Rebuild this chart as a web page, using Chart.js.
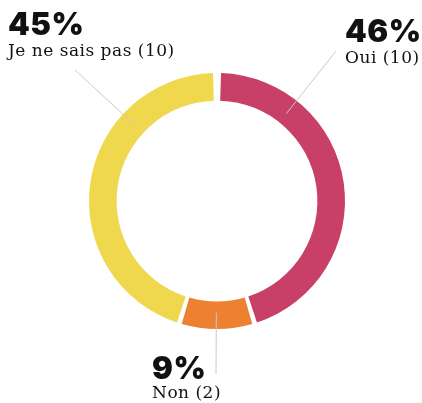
<!doctype html>
<html><head><meta charset="utf-8">
<script src="https://cdn.jsdelivr.net/npm/chart.js"></script>
<style>
  html, body { margin: 0; padding: 0; background: #fff; }
  #wrap { width: 422px; height: 403px; position: relative; }
</style>
</head><body>
<div id="wrap"><canvas id="c"></canvas></div>
<script>
// data
const categories = ['Oui', 'Non', 'Je ne sais pas'];
const counts = [10, 2, 10];
const percents = ['46%', '9%', '45%'];
const colors = ['#c83f67', '#ee8032', '#efd84d'];

// where each label sits (text left x, pct baseline, label baseline, line start)
const labelSpots = [
  { x: 345, pctY: 42, txtY: 63, lx: 336, ly: 51 },
  { x: 152, pctY: 379, txtY: 398, lx: 216, ly: 374 },
  { x: 8, pctY: 35, txtY: 56, lx: 75, ly: 70 }
];

const calloutPlugin = {
  id: 'callouts',
  afterDatasetsDraw(chart) {
    const ctx = chart.ctx;
    const meta = chart.getDatasetMeta(0);
    ctx.save();
    meta.data.forEach((arc, i) => {
      const s = labelSpots[i];
      const midR = (arc.innerRadius + arc.outerRadius) / 2;
      const dx = arc.x - s.lx, dy = arc.y - s.ly;
      const d = Math.sqrt(dx * dx + dy * dy);
      const ex = arc.x - dx / d * midR, ey = arc.y - dy / d * midR;
      ctx.strokeStyle = '#c9c9c9';
      ctx.lineWidth = 1;
      ctx.beginPath();
      ctx.moveTo(s.lx, s.ly);
      ctx.lineTo(ex, ey);
      ctx.stroke();

      ctx.fillStyle = '#111';
      ctx.textBaseline = 'alphabetic';
      ctx.textAlign = 'left';
      ctx.letterSpacing = '0.5px';
      ctx.font = '900 31px Inter';
      ctx.fillText(percents[i], s.x, s.pctY);
      ctx.letterSpacing = '0.5px';
      ctx.font = '17px "DejaVu Serif"';
      ctx.fillText(categories[i] + ' (' + counts[i] + ')', s.x, s.txtY);
    });
    ctx.restore();
  }
};

new Chart(document.getElementById('c'), {
  type: 'doughnut',
  data: {
    labels: categories,
    datasets: [{
      data: counts,
      backgroundColor: colors,
      borderWidth: 0,
      spacing: 5
    }]
  },
  options: {
    responsive: true,
    maintainAspectRatio: false,
    animation: false,
    cutout: '78%',
    layout: { padding: { top: 73, bottom: 74, left: 89, right: 77 } },
    plugins: { legend: { display: false }, tooltip: { enabled: false } }
  },
  plugins: [calloutPlugin]
});
</script>
</body></html>
